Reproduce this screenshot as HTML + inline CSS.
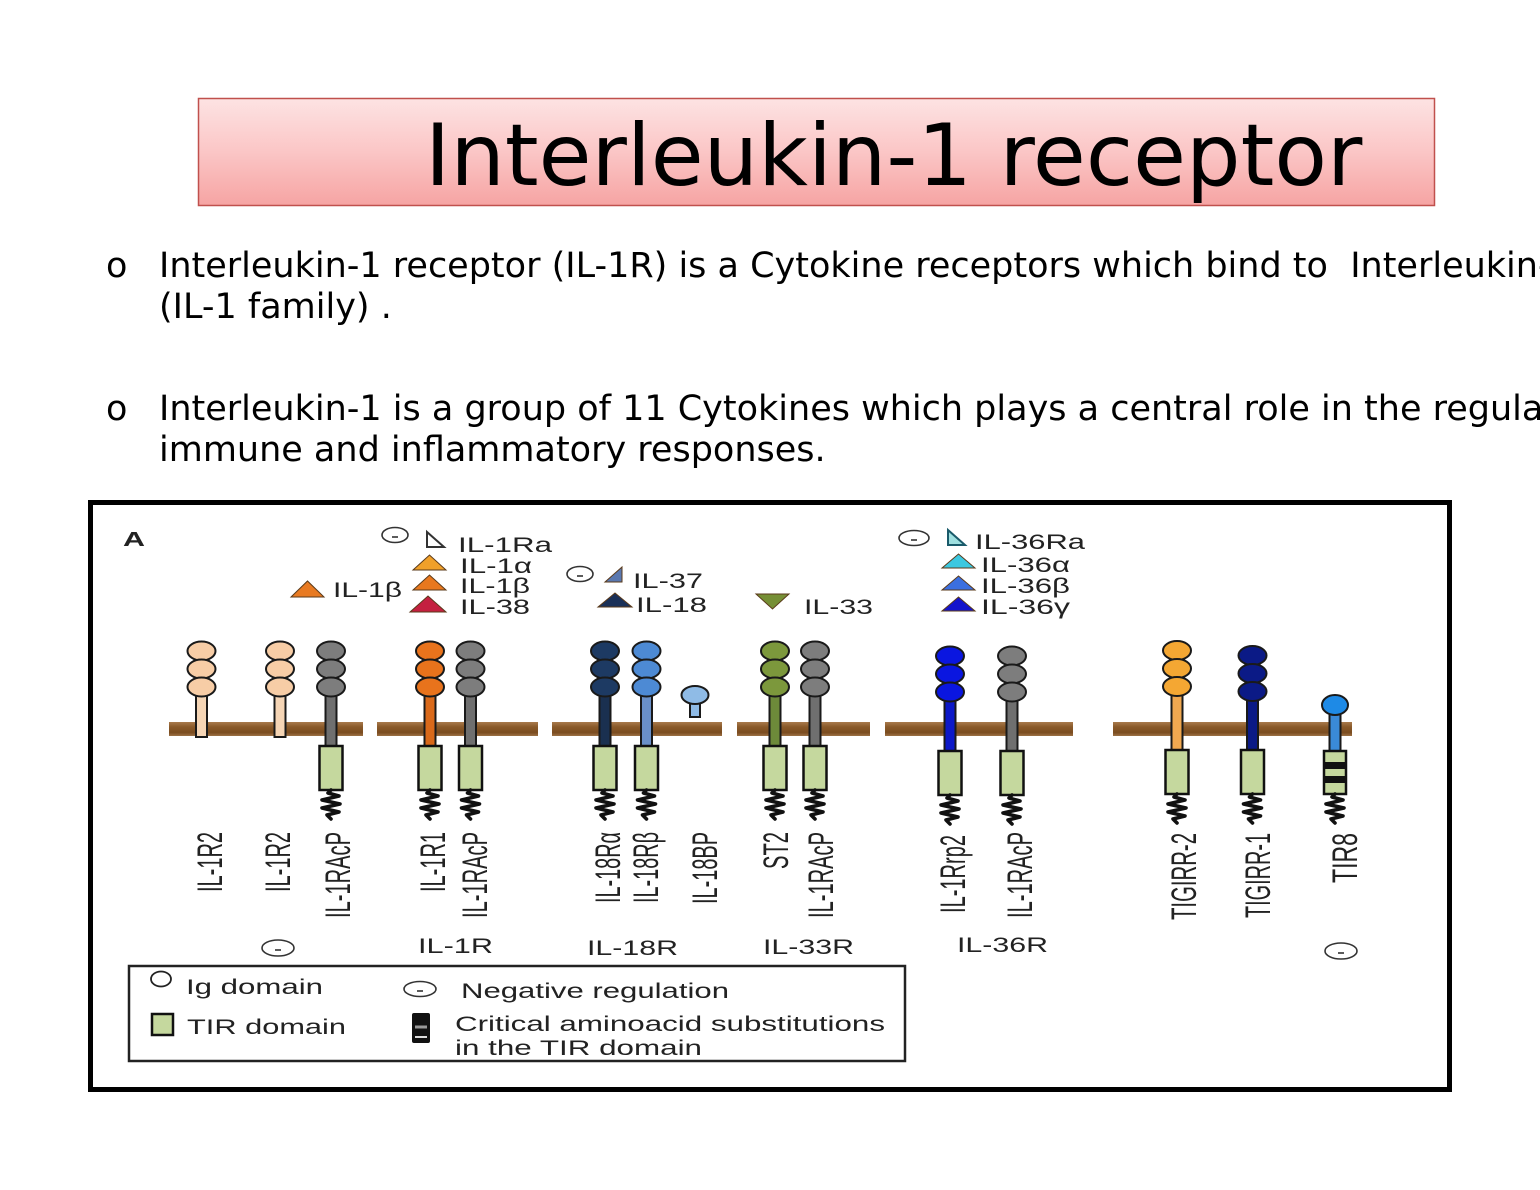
<!DOCTYPE html>
<html>
<head>
<meta charset="utf-8">
<style>
  html, body { margin:0; padding:0; background:#ffffff; }
  body { width:1540px; height:1190px; overflow:hidden; position:relative; }
  svg { position:absolute; left:0; top:0; }
  .dv { font-family: "DejaVu Sans", "Liberation Sans", sans-serif; fill:#000; }
  .ar { font-family: "Liberation Sans", Arial, sans-serif; fill:#222; }
</style>
</head>
<body>
<svg width="1540" height="1190" viewBox="0 0 1540 1190" xmlns="http://www.w3.org/2000/svg">
  <defs>
    <linearGradient id="tg" x1="0" y1="0" x2="0" y2="1">
      <stop offset="0" stop-color="#fde3e3"/>
      <stop offset="0.5" stop-color="#fbc6c6"/>
      <stop offset="1" stop-color="#f6a4a3"/>
    </linearGradient>
    <linearGradient id="mem" x1="0" y1="0" x2="0" y2="1">
      <stop offset="0" stop-color="#a87a4c"/>
      <stop offset="0.35" stop-color="#8a5a2a"/>
      <stop offset="0.75" stop-color="#7a4c1f"/>
      <stop offset="1" stop-color="#9c7146"/>
    </linearGradient>
    <path id="sq" d="M0,0 L-3,3 L8,6 L-9,10 L9,14 L-9,18 L8,22 L-4,25 L0,29" fill="none" stroke="#111" stroke-width="3.6" stroke-linejoin="round" stroke-linecap="round"/>
  </defs>

  <!-- Title -->
  <rect x="198.5" y="98.5" width="1236" height="107" fill="url(#tg)" stroke="#c0504d" stroke-width="1.5"/>
  <text class="dv" x="425" y="185" font-size="86">Interleukin-1 receptor</text>

  <!-- Bullets -->
  <g class="dv" font-size="35" style="white-space:pre">
    <text x="106" y="277">o</text>
    <text x="159" y="277" xml:space="preserve">Interleukin-1 receptor (IL-1R) is a Cytokine receptors which bind to  Interleukin-1 family</text>
    <text x="159" y="318">(IL-1 family) .</text>
    <text x="106" y="420">o</text>
    <text x="159" y="420">Interleukin-1 is a group of 11 Cytokines which plays a central role in the regulation of</text>
    <text x="159" y="461">immune and inflammatory responses.</text>
  </g>

  <!-- Figure frame -->
  <rect x="90.5" y="502.5" width="1359" height="587" fill="#ffffff" stroke="#000" stroke-width="5"/>

  <!-- A -->
  <text class="ar" x="123" y="546" font-size="20" font-weight="bold" textLength="22" lengthAdjust="spacingAndGlyphs" fill="#222">A</text>

  <!-- Top ligand labels -->
  <g class="ar" font-size="21">
    <text x="333" y="597" textLength="69" lengthAdjust="spacingAndGlyphs">IL-1β</text>
    <text x="458" y="552" textLength="94" lengthAdjust="spacingAndGlyphs">IL-1Ra</text>
    <text x="460" y="573" textLength="72" lengthAdjust="spacingAndGlyphs">IL-1α</text>
    <text x="460" y="593" textLength="70" lengthAdjust="spacingAndGlyphs">IL-1β</text>
    <text x="460" y="614" textLength="70" lengthAdjust="spacingAndGlyphs">IL-38</text>
    <text x="633" y="588" textLength="70" lengthAdjust="spacingAndGlyphs">IL-37</text>
    <text x="636" y="612" textLength="71" lengthAdjust="spacingAndGlyphs">IL-18</text>
    <text x="804" y="614" textLength="69" lengthAdjust="spacingAndGlyphs">IL-33</text>
    <text x="975" y="549" textLength="110" lengthAdjust="spacingAndGlyphs">IL-36Ra</text>
    <text x="981" y="572" textLength="89" lengthAdjust="spacingAndGlyphs">IL-36α</text>
    <text x="981" y="593" textLength="89" lengthAdjust="spacingAndGlyphs">IL-36β</text>
    <text x="981" y="614" textLength="89" lengthAdjust="spacingAndGlyphs">IL-36γ</text>
  </g>

  <!-- Ligand triangles -->
  <g stroke="#5a3a1a" stroke-width="1">
    <polygon points="291,597 307.5,581 324,597" fill="#e87a22"/>
    <polygon points="413,570 429.5,555 446,570" fill="#f0a02a"/>
    <polygon points="413,590 429.5,575 446,590" fill="#e8781e"/>
    <polygon points="410,612 428,596 446,612" fill="#c42040"/>
    <polygon points="598,607 615,593 632,607" fill="#1a3058"/>
    <polygon points="605,582 622,567 622,582" fill="#5a78b0"/>
    <polygon points="756,594 789,594 772.5,609" fill="#768f35"/>
    <polygon points="942,568 958.5,554 975,568" fill="#3cc8e0"/>
    <polygon points="942,590 958.5,576 975,590" fill="#3b6fe0"/>
    <polygon points="942,611 958.5,597 975,611" fill="#1414cc"/>
  </g>
  <polygon points="427,532 427,547 444,547" fill="#ffffff" stroke="#333" stroke-width="2"/>
  <polygon points="948,530 948,545 965,545" fill="#9fe0e0" stroke="#1a5a6a" stroke-width="2"/>

  <!-- Negative regulation symbols -->
  <g fill="none" stroke="#333" stroke-width="1.6">
    <ellipse cx="395" cy="535" rx="13" ry="7.5"/><line x1="392" y1="537" x2="398" y2="537"/>
    <ellipse cx="580" cy="574" rx="13" ry="7.5"/><line x1="577" y1="576" x2="583" y2="576"/>
    <ellipse cx="914" cy="538" rx="15" ry="7.5"/><line x1="911" y1="540" x2="917" y2="540"/>
    <ellipse cx="278" cy="948" rx="16" ry="8"/><line x1="275" y1="950" x2="281" y2="950"/>
    <ellipse cx="1341" cy="951" rx="16" ry="8"/><line x1="1338" y1="953" x2="1344" y2="953"/>
    <ellipse cx="420" cy="989" rx="16" ry="7.5"/><line x1="417" y1="991" x2="423" y2="991"/>
  </g>

  <!-- Membranes -->
  <g fill="url(#mem)">
    <rect x="169" y="722" width="194" height="14"/>
    <rect x="377" y="722" width="161" height="14"/>
    <rect x="552" y="722" width="170" height="14"/>
    <rect x="737" y="722" width="133" height="14"/>
    <rect x="885" y="722" width="188" height="14"/>
    <rect x="1113" y="722" width="239" height="14"/>
  </g>

  <!-- Receptors -->
  <g stroke="#1a1a1a" stroke-width="2">
    <!-- IL-1R2 a -->
    <rect x="196" y="690" width="11" height="47" fill="#f5d5b5"/>
    <ellipse cx="201.5" cy="651" rx="14" ry="9.5" fill="#f7cda6"/>
    <ellipse cx="201.5" cy="669" rx="14" ry="9.5" fill="#f7cda6"/>
    <ellipse cx="201.5" cy="687" rx="14" ry="9.5" fill="#f7cda6"/>
    <!-- IL-1R2 b -->
    <rect x="274.5" y="690" width="11" height="47" fill="#f5d5b5"/>
    <ellipse cx="280" cy="651" rx="14" ry="9.5" fill="#f7cda6"/>
    <ellipse cx="280" cy="669" rx="14" ry="9.5" fill="#f7cda6"/>
    <ellipse cx="280" cy="687" rx="14" ry="9.5" fill="#f7cda6"/>
    <!-- IL-1RAcP -->
    <rect x="325.5" y="690" width="11" height="56" fill="#6f6f6f"/>
    <ellipse cx="331" cy="651" rx="14" ry="9.5" fill="#7d7d7d"/>
    <ellipse cx="331" cy="669" rx="14" ry="9.5" fill="#7d7d7d"/>
    <ellipse cx="331" cy="687" rx="14" ry="9.5" fill="#7d7d7d"/>
    <!-- IL-1R1 -->
    <rect x="424.5" y="690" width="11" height="56" fill="#d9691a"/>
    <ellipse cx="430" cy="651" rx="14" ry="9.5" fill="#e8731c"/>
    <ellipse cx="430" cy="669" rx="14" ry="9.5" fill="#e8731c"/>
    <ellipse cx="430" cy="687" rx="14" ry="9.5" fill="#e8731c"/>
    <!-- IL-1RAcP -->
    <rect x="465" y="690" width="11" height="56" fill="#6f6f6f"/>
    <ellipse cx="470.5" cy="651" rx="14" ry="9.5" fill="#7d7d7d"/>
    <ellipse cx="470.5" cy="669" rx="14" ry="9.5" fill="#7d7d7d"/>
    <ellipse cx="470.5" cy="687" rx="14" ry="9.5" fill="#7d7d7d"/>
    <!-- IL-18Ra -->
    <rect x="599.5" y="690" width="11" height="56" fill="#1a3050"/>
    <ellipse cx="605" cy="651" rx="14" ry="9.5" fill="#1d3a63"/>
    <ellipse cx="605" cy="669" rx="14" ry="9.5" fill="#1d3a63"/>
    <ellipse cx="605" cy="687" rx="14" ry="9.5" fill="#1d3a63"/>
    <!-- IL-18Rb -->
    <rect x="641" y="690" width="11" height="56" fill="#6a90c8"/>
    <ellipse cx="646.5" cy="651" rx="14" ry="9.5" fill="#4d8ad4"/>
    <ellipse cx="646.5" cy="669" rx="14" ry="9.5" fill="#4d8ad4"/>
    <ellipse cx="646.5" cy="687" rx="14" ry="9.5" fill="#4d8ad4"/>
    <!-- IL-18BP -->
    <rect x="690" y="700" width="10" height="17" fill="#8fbbe6"/>
    <ellipse cx="695" cy="695" rx="13.5" ry="9" fill="#8fbbe6"/>
    <!-- ST2 -->
    <rect x="769.5" y="690" width="11" height="56" fill="#6d8a3a"/>
    <ellipse cx="775" cy="651" rx="14" ry="9.5" fill="#7c983c"/>
    <ellipse cx="775" cy="669" rx="14" ry="9.5" fill="#7c983c"/>
    <ellipse cx="775" cy="687" rx="14" ry="9.5" fill="#7c983c"/>
    <!-- IL-1RAcP -->
    <rect x="809.5" y="690" width="11" height="56" fill="#6f6f6f"/>
    <ellipse cx="815" cy="651" rx="14" ry="9.5" fill="#7d7d7d"/>
    <ellipse cx="815" cy="669" rx="14" ry="9.5" fill="#7d7d7d"/>
    <ellipse cx="815" cy="687" rx="14" ry="9.5" fill="#7d7d7d"/>
    <!-- IL-1Rrp2 -->
    <rect x="944.5" y="695" width="11" height="56" fill="#0c18c8"/>
    <ellipse cx="950" cy="656" rx="14" ry="9.5" fill="#0a16e0"/>
    <ellipse cx="950" cy="674" rx="14" ry="9.5" fill="#0a16e0"/>
    <ellipse cx="950" cy="692" rx="14" ry="9.5" fill="#0a16e0"/>
    <!-- IL-1RAcP (36) -->
    <rect x="1006.5" y="695" width="11" height="56" fill="#6f6f6f"/>
    <ellipse cx="1012" cy="656" rx="14" ry="9.5" fill="#7d7d7d"/>
    <ellipse cx="1012" cy="674" rx="14" ry="9.5" fill="#7d7d7d"/>
    <ellipse cx="1012" cy="692" rx="14" ry="9.5" fill="#7d7d7d"/>
    <!-- TIGIRR-2 -->
    <rect x="1171.5" y="690" width="11" height="60" fill="#f0a850"/>
    <ellipse cx="1177" cy="650.5" rx="14" ry="9.5" fill="#f4a733"/>
    <ellipse cx="1177" cy="668.5" rx="14" ry="9.5" fill="#f4a733"/>
    <ellipse cx="1177" cy="686.5" rx="14" ry="9.5" fill="#f4a733"/>
    <!-- TIGIRR-1 -->
    <rect x="1247" y="695" width="11" height="55" fill="#0b1a86"/>
    <ellipse cx="1252.5" cy="655.5" rx="14" ry="9.5" fill="#0b1a86"/>
    <ellipse cx="1252.5" cy="673.5" rx="14" ry="9.5" fill="#0b1a86"/>
    <ellipse cx="1252.5" cy="691.5" rx="14" ry="9.5" fill="#0b1a86"/>
    <!-- TIR8 -->
    <rect x="1329.5" y="710" width="11" height="41" fill="#3a8ad8"/>
    <ellipse cx="1335" cy="705" rx="13" ry="10" fill="#1e8ae6"/>
  </g>

  <!-- TIR domains -->
  <g fill="#c5d89e" stroke="#111" stroke-width="2.5">
    <rect x="319.5" y="746" width="23" height="44"/>
    <rect x="418.5" y="746" width="23" height="44"/>
    <rect x="459" y="746" width="23" height="44"/>
    <rect x="593.5" y="746" width="23" height="44"/>
    <rect x="635" y="746" width="23" height="44"/>
    <rect x="763.5" y="746" width="23" height="44"/>
    <rect x="803.5" y="746" width="23" height="44"/>
    <rect x="938.5" y="751" width="23" height="44"/>
    <rect x="1000.5" y="751" width="23" height="44"/>
    <rect x="1165.5" y="750" width="23" height="44"/>
    <rect x="1241" y="750" width="23" height="44"/>
    <rect x="1324" y="751" width="22" height="43"/>
  </g>
  <rect x="1324" y="762" width="22" height="7" fill="#111"/>
  <rect x="1324" y="776" width="22" height="7" fill="#111"/>

  <!-- Squiggles -->
  <use href="#sq" x="331" y="790"/>
  <use href="#sq" x="430" y="790"/>
  <use href="#sq" x="470.5" y="790"/>
  <use href="#sq" x="605" y="790"/>
  <use href="#sq" x="646.5" y="790"/>
  <use href="#sq" x="775" y="790"/>
  <use href="#sq" x="815" y="790"/>
  <use href="#sq" x="950" y="795"/>
  <use href="#sq" x="1012" y="795"/>
  <use href="#sq" x="1177" y="794"/>
  <use href="#sq" x="1252.5" y="794"/>
  <use href="#sq" x="1335" y="794"/>

  <!-- Vertical receptor labels -->
  <g class="ar" font-size="27" text-anchor="end">
    <text transform="translate(222,832) scale(1.3,1) rotate(-90)" textLength="60" lengthAdjust="spacingAndGlyphs">IL-1R2</text>
    <text transform="translate(290,832) scale(1.3,1) rotate(-90)" textLength="60" lengthAdjust="spacingAndGlyphs">IL-1R2</text>
    <text transform="translate(350,832) scale(1.3,1) rotate(-90)" textLength="86" lengthAdjust="spacingAndGlyphs">IL-1RAcP</text>
    <text transform="translate(445,832) scale(1.3,1) rotate(-90)" textLength="60" lengthAdjust="spacingAndGlyphs">IL-1R1</text>
    <text transform="translate(487,832) scale(1.3,1) rotate(-90)" textLength="86" lengthAdjust="spacingAndGlyphs">IL-1RAcP</text>
    <text transform="translate(620,832) scale(1.3,1) rotate(-90)" textLength="71" lengthAdjust="spacingAndGlyphs">IL-18Rα</text>
    <text transform="translate(658,832) scale(1.3,1) rotate(-90)" textLength="71" lengthAdjust="spacingAndGlyphs">IL-18Rβ</text>
    <text transform="translate(717,832) scale(1.3,1) rotate(-90)" textLength="72" lengthAdjust="spacingAndGlyphs">IL-18BP</text>
    <text transform="translate(788,832) scale(1.3,1) rotate(-90)" textLength="37" lengthAdjust="spacingAndGlyphs">ST2</text>
    <text transform="translate(833,832) scale(1.3,1) rotate(-90)" textLength="86" lengthAdjust="spacingAndGlyphs">IL-1RAcP</text>
    <text transform="translate(965,835) scale(1.3,1) rotate(-90)" textLength="78" lengthAdjust="spacingAndGlyphs">IL-1Rrp2</text>
    <text transform="translate(1032,832) scale(1.3,1) rotate(-90)" textLength="86" lengthAdjust="spacingAndGlyphs">IL-1RAcP</text>
    <text transform="translate(1196,833) scale(1.3,1) rotate(-90)" textLength="87" lengthAdjust="spacingAndGlyphs">TIGIRR-2</text>
    <text transform="translate(1270,833) scale(1.3,1) rotate(-90)" textLength="85" lengthAdjust="spacingAndGlyphs">TIGIRR-1</text>
    <text transform="translate(1357,833) scale(1.3,1) rotate(-90)" textLength="50" lengthAdjust="spacingAndGlyphs">TIR8</text>
  </g>

  <!-- Group labels -->
  <g class="ar" font-size="21">
    <text x="418" y="953" textLength="75" lengthAdjust="spacingAndGlyphs">IL-1R</text>
    <text x="587" y="955" textLength="91" lengthAdjust="spacingAndGlyphs">IL-18R</text>
    <text x="763" y="954" textLength="91" lengthAdjust="spacingAndGlyphs">IL-33R</text>
    <text x="957" y="952" textLength="91" lengthAdjust="spacingAndGlyphs">IL-36R</text>
  </g>

  <!-- Legend -->
  <rect x="129" y="966" width="776" height="95" fill="none" stroke="#222" stroke-width="2.5"/>
  <ellipse cx="161" cy="979" rx="10" ry="7.5" fill="none" stroke="#222" stroke-width="1.8"/>
  <rect x="152" y="1014" width="21" height="21" fill="#c5d89e" stroke="#111" stroke-width="2.5"/>
  <rect x="412" y="1013" width="18" height="30" rx="2" fill="#111"/>
  <line x1="415" y1="1027" x2="427" y2="1027" stroke="#999" stroke-width="3"/>
  <line x1="415" y1="1037" x2="427" y2="1037" stroke="#ddd" stroke-width="2"/>
  <g class="ar" font-size="21">
    <text x="186" y="994" textLength="137" lengthAdjust="spacingAndGlyphs">Ig domain</text>
    <text x="187" y="1034" textLength="159" lengthAdjust="spacingAndGlyphs">TIR domain</text>
    <text x="461" y="998" textLength="268" lengthAdjust="spacingAndGlyphs">Negative regulation</text>
    <text x="455" y="1031" textLength="430" lengthAdjust="spacingAndGlyphs">Critical aminoacid substitutions</text>
    <text x="455" y="1055" textLength="247" lengthAdjust="spacingAndGlyphs">in the TIR domain</text>
  </g>
</svg>
</body>
</html>
